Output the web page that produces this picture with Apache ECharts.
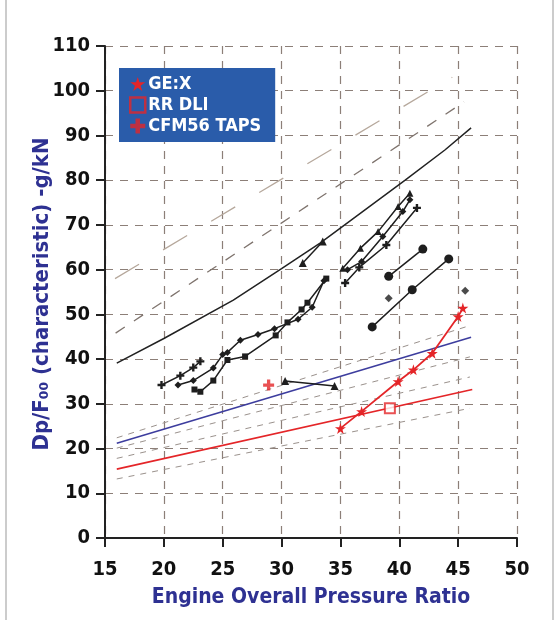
<!DOCTYPE html>
<html><head><meta charset="utf-8">
<script src="https://cdn.jsdelivr.net/npm/echarts@6/dist/echarts.min.js"></script>
<style>html,body{margin:0;padding:0;background:#fff}#c{width:557px;height:620px}</style>
</head><body><div id="c"></div>
<script>
// ---- data ----
const xTicks = [15,20,25,30,35,40,45,50];
const yTicks = [0,10,20,30,40,50,60,70,80,90,100,110];
const capCurve = [[16,39.1],[20,44.6],[25.9,53.2],[30,60.2],[33.3,66],[37,73.2],[40.5,80],[43.9,86.8],[46.1,91.7]];
const upperDashA = [[15.85,58],[44.5,103]];
const upperDashB = [[15.9,45.8],[45.5,97.5]];
const mtGoal = [[16,21.2],[46.1,44.9]];
const ltGoal = [[16,15.4],[46.2,33.2]];
const lowDash1 = [[16,22.4],[46,47.5]];
const lowDash2 = [[16,20.1],[46,40.5]];
const lowDash3 = [[16,17.8],[46,36]];
const lowDash4 = [[16,13.2],[46,29]];
const engA = [[19.8,34.2],[21.4,36.3],[22.5,38.1],[23.1,39.5]];
const engB = [[21.2,34.2],[22.5,35.2],[24.2,38],[25,41],[25.4,41.5],[26.5,44.2],[28,45.5],[29.4,46.8],[31.4,48.9],[32.6,51.6],[33.6,57.5]];
const engC = [[22.6,33.2],[23.1,32.7],[24.2,35.2],[25.4,39.8],[26.9,40.6],[29.5,45.3],[30.5,48.2],[31.7,51.1],[32.2,52.6],[33.8,58]];
const engD = [[31.8,61.5],[33.5,66.3]];
const engE = [[30.3,35.1],[34.5,34]];
const engF = [[35.2,60.3],[36.7,64.8],[38.2,68.5],[39.9,74.1],[40.9,77.1]];
const engG = [[35.6,60],[36.8,61.8],[38.6,67.4],[40.3,73],[40.9,75.6]];
const engH = [[35.4,57],[36.6,60.5],[38.9,65.5],[41.5,73.8]];
const engI = [[39.1,58.5],[42,64.6]];
const engJ = [[37.7,47.2],[41.1,55.5],[44.2,62.4]];
const engK = [[39.1,53.6],[45.6,55.3]];
const geX = [[35,24.5],[36.8,28.3],[39.9,35],[41.2,37.6],[42.8,41.3],[45,49.5],[45.4,51.4]];
const rrDli = [[39.2,29]];
const cfm56 = [[28.9,34.2]];

const STAR = 'path://M50,0 L61,35 L98,35 L68,57 L79,91 L50,70 L21,91 L32,57 L2,35 L39,35 Z';
const PLUS = 'path://M35,0 H65 V35 H100 V65 H65 V100 H35 V65 H0 V35 H35 Z';
const RED = '#e42528', NAVY = '#2e3192', BLK = '#1e1e1e', GRIDC = '#8c7f78';
const FONT = '"Liberation Sans Narrow","DejaVu Sans Condensed",sans-serif';

function plain(data, color, width, type, z){
  return {type:'line', data, symbol:'none', silent:true, z:z||2,
    lineStyle:{color, width, type:type||'solid'}};
}
function eng(data, symbol, size){
  return {type:'line', data, symbol, symbolSize:size||7, silent:true, z:4,
    lineStyle:{color:BLK, width:1.5}, itemStyle:{color:BLK}};
}

const chart = echarts.init(document.getElementById('c'));
chart.setOption({
  animation:false,
  backgroundColor:'#fff',
  grid:{left:105, right:40, top:46, bottom:82, containLabel:false},
  xAxis:{type:'value', min:15, max:50, interval:5,
    axisLine:{show:true, lineStyle:{color:'#222', width:2}},
    axisTick:{show:true, length:9, lineStyle:{color:'#222', width:2}},
    axisLabel:{margin:22, color:'#111', fontSize:20, fontWeight:'bold', fontFamily:FONT,
      formatter:v=>xTicks.includes(v)?String(v):''},
    splitLine:{show:true, lineStyle:{color:GRIDC, width:1.2, type:[8,7]}},
    name:'Engine Overall Pressure Ratio', nameLocation:'middle', nameGap:49,
    nameTextStyle:{color:NAVY, fontSize:21, fontWeight:'bold', fontFamily:FONT}},
  yAxis:{type:'value', min:0, max:110, interval:10,
    axisLine:{show:true, lineStyle:{color:'#222', width:2}},
    axisTick:{show:true, length:9, lineStyle:{color:'#222', width:2}},
    axisLabel:{margin:15, color:'#111', fontSize:20, fontWeight:'bold', fontFamily:FONT,
      formatter:v=>yTicks.includes(v)?String(v):''},
    splitLine:{show:true, lineStyle:{color:GRIDC, width:1.2, type:[8,7]}}},
  legend:{show:true, left:119, top:68, orient:'vertical', backgroundColor:'#2a5caa',
    padding:[7,14,7,10], itemGap:3, itemWidth:15, itemHeight:15, selectedMode:false,
    textStyle:{color:'#fff', fontSize:18, fontWeight:'bold', fontFamily:FONT, padding:[0,0,0,-2]},
    data:[
      {name:'GE:X', icon:STAR, itemStyle:{color:RED}},
      {name:'RR DLI', icon:'rect', itemStyle:{color:'rgba(0,0,0,0)', borderColor:RED, borderWidth:2.5}},
      {name:'CFM56 TAPS', icon:PLUS, itemStyle:{color:RED}}
    ]},
  graphic:[
    {type:'text', x:42, y:294, rotation:Math.PI/2,
      style:{text:'Dp/F\u2080\u2080 (characteristic) -g/kN', fill:NAVY, fontSize:22, fontWeight:'bold',
        fontFamily:FONT, align:'center', verticalAlign:'middle'}},
    {type:'rect', shape:{x:6, y:-2, width:547, height:625}, style:{fill:'none', stroke:'#999', lineWidth:1}}
  ],
  series:[
    plain(upperDashA, '#b6a89c', 1.3, [28,28], 1),
    plain(upperDashB, '#7f746e', 1.3, [11,11], 1),
    plain(lowDash1, '#9a918c', 1, [6,6], 1),
    plain(lowDash2, '#9a918c', 1, [6,6], 1),
    plain(lowDash3, '#9a918c', 1, [6,6], 1),
    plain(lowDash4, '#9a918c', 1, [6,6], 1),
    plain(capCurve, '#222', 1.5, 'solid', 3),
    Object.assign(plain(mtGoal, '#3d3d9e', 1.6, 'solid', 3),
      {label:{show:true, position:'right', distance:6, color:NAVY, fontSize:19, fontWeight:'bold', fontFamily:FONT,
        formatter:p=>p.dataIndex===1?'MT Goal':''}}),
    Object.assign(plain(ltGoal, RED, 1.6, 'solid', 3),
      {label:{show:true, position:'right', distance:6, color:RED, fontSize:19, fontWeight:'bold', fontFamily:FONT,
        formatter:p=>p.dataIndex===1?'LT Goal':''}}),
    eng(engA, PLUS, 8),
    eng(engB, 'diamond', 7),
    eng(engC, 'rect', 6),
    eng(engD, 'triangle', 8),
    eng(engE, 'triangle', 8),
    eng(engF, 'triangle', 7),
    eng(engG, 'diamond', 7),
    eng(engH, PLUS, 8),
    eng(engI, 'circle', 9),
    eng(engJ, 'circle', 9),
    {type:'scatter', data:engK, symbol:'diamond', symbolSize:8, itemStyle:{color:BLK}, z:4, silent:true},
    {name:'GE:X', type:'line', data:geX, symbol:STAR, symbolSize:11, z:5, silent:true,
      lineStyle:{color:RED, width:1.8}, itemStyle:{color:RED}},
    {name:'RR DLI', type:'scatter', data:rrDli, symbol:'rect', symbolSize:10, z:5, silent:true,
      itemStyle:{color:'#fff', borderColor:RED, borderWidth:2}},
    {name:'CFM56 TAPS', type:'scatter', data:cfm56, symbol:PLUS, symbolSize:11, z:5, silent:true,
      itemStyle:{color:RED}}
  ]
});
</script></body></html>
